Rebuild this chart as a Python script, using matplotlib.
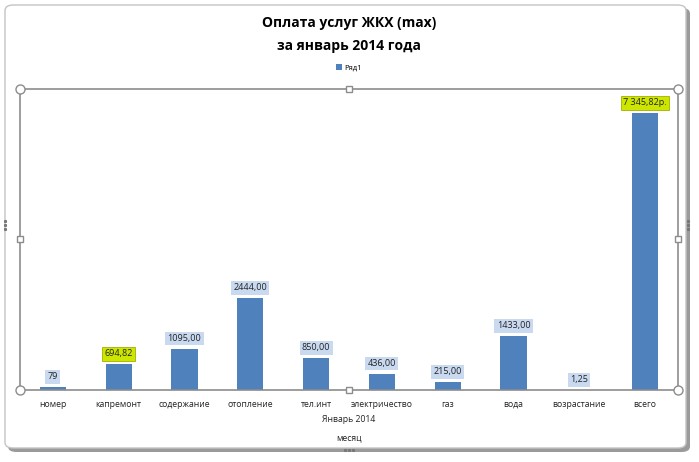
import matplotlib
matplotlib.use("Agg")
import matplotlib.pyplot as plt
from matplotlib.patches import FancyBboxPatch, Patch
from matplotlib.lines import Line2D

plt.rcParams['font.family'] = ['Open Sans', 'DejaVu Sans']

categories = ["номер", "капремонт", "содержание", "отопление", "тел.инт",
              "электричество", "газ", "вода", "возрастание", "всего"]
values = [79, 694.82, 1095.00, 2444.00, 850.00, 436.00, 215.00, 1433.00, 1.25, 7345.82]
value_labels = ["79", "694,82", "1095,00", "2444,00", "850,00", "436,00",
                "215,00", "1433,00", "1,25", "7 345,82р."]
highlighted = [False, True, False, False, False, False, False, False, False, True]
series_name = "Ряд1"
title = "Оплата услуг ЖКХ (max)\nза январь 2014 года"
xlabel1 = "Январь 2014"
xlabel2 = "месяц"

W, H = 699, 462
fig = plt.figure(figsize=(W / 100, H / 100), dpi=100)
fig.patch.set_facecolor("white")

def fx(px):
    return px / W

def fy(py):
    return 1 - py / H

# outer chart frame with shadow
shadow = FancyBboxPatch((fx(8), fy(452)), fx(690) - fx(8), fy(8) - fy(452),
                        boxstyle="round,pad=0,rounding_size=0.012",
                        transform=fig.transFigure, facecolor="#9a9a9a",
                        edgecolor="none", zorder=-2)
fig.add_artist(shadow)
frame = FancyBboxPatch((fx(5), fy(448)), fx(686) - fx(5), fy(5) - fy(448),
                       boxstyle="round,pad=0,rounding_size=0.012",
                       transform=fig.transFigure, facecolor="white",
                       edgecolor="#c4c4c4", linewidth=1.0, zorder=-1)
fig.add_artist(frame)

left, right, top, bottom = 20, 678, 89, 390
ax = fig.add_axes([fx(left), fy(bottom), fx(right) - fx(left), fy(top) - fy(bottom)])
ax.set_facecolor("none")
ax.set_zorder(2)

x = list(range(len(categories)))
ax.bar(x, values, width=0.4, color="#4f81bd", zorder=2)
ax.set_xlim(-0.5, len(categories) - 0.5)
ax.set_ylim(0, 7345.82 * 301 / 277)

for xi, v, lab, hl in zip(x, values, value_labels, highlighted):
    if hl:
        bbox = dict(boxstyle="square,pad=0.25", facecolor="#cde600",
                    edgecolor="#a4b000", linewidth=0.6)
    else:
        bbox = dict(boxstyle="square,pad=0.25", facecolor="#c9d9f0",
                    edgecolor="none")
    ax.annotate(lab, (xi, v), xytext=(0, 4), textcoords="offset points",
                ha="center", va="bottom", fontsize=6.5, color="#222222",
                bbox=bbox, zorder=3)

ax.set_xticks(x)
ax.set_xticklabels(categories, fontsize=6.2, color="#222222")
ax.tick_params(axis="x", length=0, pad=7)
ax.set_yticks([])
for s in ["left", "right", "top", "bottom"]:
    ax.spines[s].set_color("#8c8c8c")
    ax.spines[s].set_linewidth(1.2)

fig.text(fx(349), fy(420), xlabel1, ha="center", va="center", fontsize=6.2, color="#222222")
fig.text(fx(349), fy(438), xlabel2, ha="center", va="center", fontsize=6.2, color="#222222")

fig.text(fx(349), fy(34.5), title, ha="center", va="center", fontsize=10,
         fontweight="bold", color="black", linespacing=1.75)

leg = fig.legend(handles=[Patch(facecolor="#4f81bd", edgecolor="none")],
                 labels=[series_name], loc="center", bbox_to_anchor=(fx(349), fy(68)),
                 frameon=False, fontsize=5.5, handlelength=0.8, handleheight=0.8,
                 handletextpad=0.3)

# selection handles on plot area
for (px, py) in [(left, top), (right, top), (left, bottom), (right, bottom)]:
    fig.add_artist(Line2D([fx(px)], [fy(py)], marker="o", markersize=6.5,
                          markerfacecolor="white", markeredgecolor="#8c8c8c",
                          markeredgewidth=1, transform=fig.transFigure, zorder=10))
for (px, py) in [(349, top), (349, bottom), (left, 239), (right, 239)]:
    fig.add_artist(Line2D([fx(px)], [fy(py)], marker="s", markersize=4.5,
                          markerfacecolor="white", markeredgecolor="#8c8c8c",
                          markeredgewidth=1, transform=fig.transFigure, zorder=10))
# outer frame dotted handles
for (px, py, horiz) in [(349, 450, True), (5, 225, False), (688, 225, False)]:
    if horiz:
        xs = [fx(px - 4), fx(px), fx(px + 4)]
        ys = [fy(py)] * 3
    else:
        xs = [fx(px)] * 3
        ys = [fy(py - 4), fy(py), fy(py + 4)]
    fig.add_artist(Line2D(xs, ys, linestyle="none", marker="s", markersize=1.2,
                          color="#777777", transform=fig.transFigure, zorder=10))

fig.savefig("out.png", dpi=100, facecolor="white")
